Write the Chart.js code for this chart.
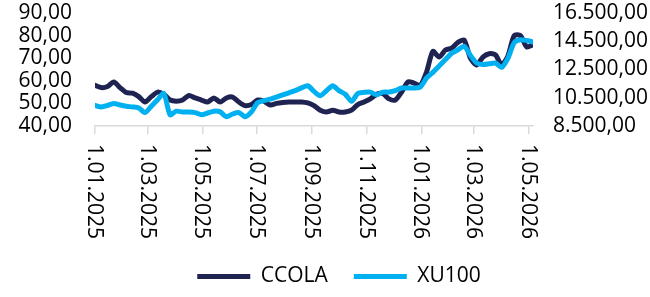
<!DOCTYPE html>
<html><head><meta charset="utf-8">
<script src="https://cdn.jsdelivr.net/npm/chart.js@4/dist/chart.umd.min.js"></script>
<style>html,body{margin:0;padding:0;background:#fff}#wrap{width:650px;height:297px}</style>
</head><body><div id="wrap"><canvas id="c"></canvas></div>
<script>
// weekly observations starting 1.01.2025 (day offsets from 1 Jan 2025)
const dayOffsets = [0,7,14,21,28,35,42,49,56,63,70,77,84,91,98,105,112,119,126,133,140,147,154,161,168,175,182,189,196,203,210,217,224,231,238,245,252,259,266,273,280,287,294,301,308,315,322,329,336,343,350,357,364,371,378,385,392,399,406,413,420,427,434,441,448,455,462,469,476,483,490];
const ccola = [58,57,57.5,59.5,57,54.8,54.5,53,50.6,53,55,54,51.5,51,51.5,53.5,52.4,51.5,50.6,52.4,50.6,52.4,52.8,50.6,49,49.5,51.5,51,49.3,50,50.4,50.6,50.6,50.6,50.2,49,47,46.2,47,46.2,46.2,47,49.5,50.6,52,54,54.3,52,51.5,55,59.5,59,58,64,73,70.5,73.6,74.5,77,78,70,67,70.5,72,71.5,67,71,80,80,75,76];
const xu100 = [9950,9850,9950,10100,9990,9900,9850,9780,9450,9900,10350,10800,9300,9550,9490,9490,9450,9300,9420,9550,9500,9150,9350,9450,9150,9500,10150,10300,10400,10550,10700,10850,11000,11200,11350,10950,10650,11000,11350,11000,10750,10250,10800,10880,10900,10700,10900,10900,11000,11190,11190,11190,11260,11900,12300,12750,13200,13650,13900,14150,13500,12960,12850,12900,12960,12650,13300,14400,14600,14550,14450];
const xTickLabels = ['1.01.2025','1.03.2025','1.05.2025','1.07.2025','1.09.2025','1.11.2025','1.01.2026','1.03.2026','1.05.2026'];
const leftTicks = [40,50,60,70,80,90];
const rightTicks = [8500,10500,12500,14500,16500];
const seriesNames = ['CCOLA','XU100'];

function dayOf(s){const p=s.split('.');return Math.round((Date.UTC(+p[2],+p[1]-1,+p[0])-Date.UTC(2025,0,1))/86400000);}
const xTickDays = xTickLabels.map(dayOf);
function fmt(v){const s=v.toFixed(2).split('.');return s[0].replace(/\B(?=(\d{3})+(?!\d))/g,'.')+','+s[1];}

const FONT = "'Open Sans', 'Noto Sans', sans-serif";
Chart.defaults.font.family = FONT;
Chart.defaults.font.size = 21;
Chart.defaults.color = '#000';

const xLabelPlugin = {
  id:'xlabels',
  afterLayout(chart){ if(chart.legend){chart.legend.left+=14;chart.legend.right+=14;} },
  afterDraw(chart){
    const sc = chart.scales.x, ctx = chart.ctx;
    ctx.save();
    ctx.font = "21px " + FONT;
    ctx.fillStyle = '#000';
    ctx.textAlign = 'left'; ctx.textBaseline = 'middle';
    sc.ticks.forEach((t,i)=>{
      const x = sc.getPixelForValue(t.value);
      ctx.save(); ctx.translate(x-1, sc.top+18); ctx.rotate(Math.PI/2);
      ctx.fillText(xTickLabels[i],0,0); ctx.restore();
    });
    ctx.restore();
  }
};

new Chart(document.getElementById('c'),{
  type:'line',
  data:{datasets:[
    {label:seriesNames[0],data:dayOffsets.map((d,i)=>({x:d,y:ccola[i]})),yAxisID:'y',borderColor:'#1F2352',backgroundColor:'#1F2352',borderWidth:5,pointRadius:0,tension:0.25,borderCapStyle:'round',borderJoinStyle:'round',order:2},
    {label:seriesNames[1],data:dayOffsets.map((d,i)=>({x:d,y:xu100[i]})),yAxisID:'y1',borderColor:'#00B0F0',backgroundColor:'#00B0F0',borderWidth:5,pointRadius:0,tension:0.25,borderCapStyle:'round',borderJoinStyle:'round',order:1}
  ]},
  options:{
    responsive:true,maintainAspectRatio:false,animation:false,
    layout:{padding:{top:0,bottom:0,left:0,right:0}},
    plugins:{
      tooltip:{enabled:false},
      legend:{position:'bottom',labels:{usePointStyle:true,pointStyle:'line',pointStyleWidth:53,boxHeight:21,padding:26,color:'#000',font:{size:21},sort:(a,b)=>a.datasetIndex-b.datasetIndex}}
    },
    scales:{
      x:{type:'linear',min:0,max:490,
        afterBuildTicks(s){s.ticks=xTickDays.map(v=>({value:v}));},
        afterFit(s){s.height=114;s.paddingLeft=0;s.paddingRight=0;},
        ticks:{display:false},
        grid:{display:true,drawOnChartArea:false,drawTicks:true,tickLength:8,color:'#d9d9d9',lineWidth:1.5},
        border:{display:true,color:'#d9d9d9',width:1.5}},
      y:{position:'left',min:40,max:90,
        afterBuildTicks(s){s.ticks=leftTicks.map(v=>({value:v}));},
        afterFit(s){s.width=95;s.paddingTop=13;s.paddingBottom=0;},
        ticks:{padding:23,autoSkip:false,callback:v=>fmt(v)},
        grid:{display:false,drawTicks:false},border:{display:false}},
      y1:{position:'right',min:8500,max:16500,
        afterBuildTicks(s){s.ticks=rightTicks.map(v=>({value:v}));},
        afterFit(s){s.width=117;s.paddingTop=13;s.paddingBottom=0;},
        ticks:{padding:20,autoSkip:false,callback:v=>fmt(v)},
        grid:{display:false,drawTicks:false},border:{display:false}}
    }
  },
  plugins:[xLabelPlugin]
});
</script></body></html>
